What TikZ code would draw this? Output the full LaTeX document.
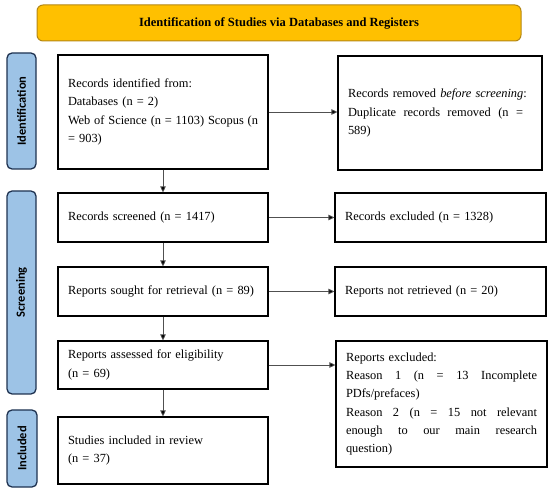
\documentclass[tikz,border=0pt]{standalone}
\usepackage{fontspec}
\setmainfont{Liberation Serif}
\newfontfamily\sidefont{Carlito}
\usetikzlibrary{arrows.meta}
\definecolor{bannerfill}{RGB}{255,192,0}
\definecolor{bannerdraw}{RGB}{180,135,20}
\definecolor{sidefill}{RGB}{157,195,230}
\definecolor{sidedraw}{RGB}{31,50,80}
\definecolor{linkgray}{RGB}{80,80,80}
\newcommand{\jline}[2]{\makebox[#1][s]{\spaceskip=0.25em plus 1fil minus 0.12em\relax #2}}
\begin{document}
\begin{tikzpicture}[x=1pt,y=1pt,
  txt/.style={font=\fontsize{12.4}{18.3}\selectfont},
  box/.style={txt,draw=black,line width=1.1pt,inner xsep=10pt,inner ysep=0pt,align=left,anchor=center},
  side/.style={draw=sidedraw,fill=sidefill,line width=1.3pt,rounded corners=5pt,rotate=90,inner sep=0pt,font=\sidefont\fontsize{12.5}{13}\selectfont\bfseries},
  link/.style={draw=linkgray,line width=0.8pt,-{Triangle[length=6pt,width=5.5pt,fill=black]}},
]
\useasboundingbox (0,0) rectangle (550,-492);

% banner
\node[draw=bannerdraw,fill=bannerfill,line width=1pt,rounded corners=6pt,minimum width=484pt,minimum height=36pt,inner sep=0pt,font=\fontsize{12.5}{13}\selectfont\bfseries] (banner) at (279,-23) {Identification of Studies via Databases and Registers};

% side labels
\node[side,minimum width=116pt,minimum height=29pt] (ident) at (21.5,-111) {Identification};
\node[side,minimum width=203pt,minimum height=29pt] (screen) at (21.5,-292.5) {Screening};
\node[side,minimum width=77pt,minimum height=30pt] (incl) at (22,-448.5) {Included};

% left column
\node[box,text width=190pt,minimum height=114pt] (b1) at (163,-112) {Records identified from:\\Databases (n = 2)\\\jline{190pt}{Web of Science (n = 1103) Scopus (n}\\= 903)};
\node[box,text width=190pt,minimum height=49pt] (b2) at (163,-217.5) {Records screened (n = 1417)};
\node[box,text width=190pt,minimum height=49pt] (b3) at (163,-291.5) {Reports sought for retrieval (n = 89)};
\node[box,text width=190pt,minimum height=48pt] (b4) at (163,-365) {Reports assessed for eligibility\\(n = 69)};
\node[box,text width=190pt,minimum height=67pt] (b5) at (163,-450.5) {Studies included in review\\(n = 37)};

% right column
\node[box,text width=184pt,minimum height=114pt] (r1) at (440,-113) {Records removed \emph{before screening}:\\\jline{175pt}{Duplicate records removed (n =}\\589)};
\node[box,text width=191pt,minimum height=49pt] (r2) at (440.5,-217.5) {Records excluded (n = 1328)};
\node[box,text width=191pt,minimum height=49pt] (r3) at (440.5,-291.5) {Reports not retrieved (n = 20)};
\node[box,text width=191pt,minimum height=126pt] (r4) at (441.5,-404) {Reports excluded:\\\jline{191pt}{Reason 1 (n = 13 Incomplete}\\PDfs/prefaces)\\\jline{191pt}{Reason 2 (n = 15 not relevant}\\\jline{191pt}{enough to our main research}\\question)};

% connectors
\draw[link] (b1.south) -- (b2.north);
\draw[link] (b2.south) -- (b3.north);
\draw[link] (b3.south) -- (b4.north);
\draw[link] (b4.south) -- (b5.north);
\draw[link] (b1.east) -- (b1.east -| r1.west);
\draw[link] (b2.east) -- (b2.east -| r2.west);
\draw[link] (b3.east) -- (b3.east -| r3.west);
\draw[link] (b4.east) -- (b4.east -| r4.west);
\end{tikzpicture}
\end{document}
